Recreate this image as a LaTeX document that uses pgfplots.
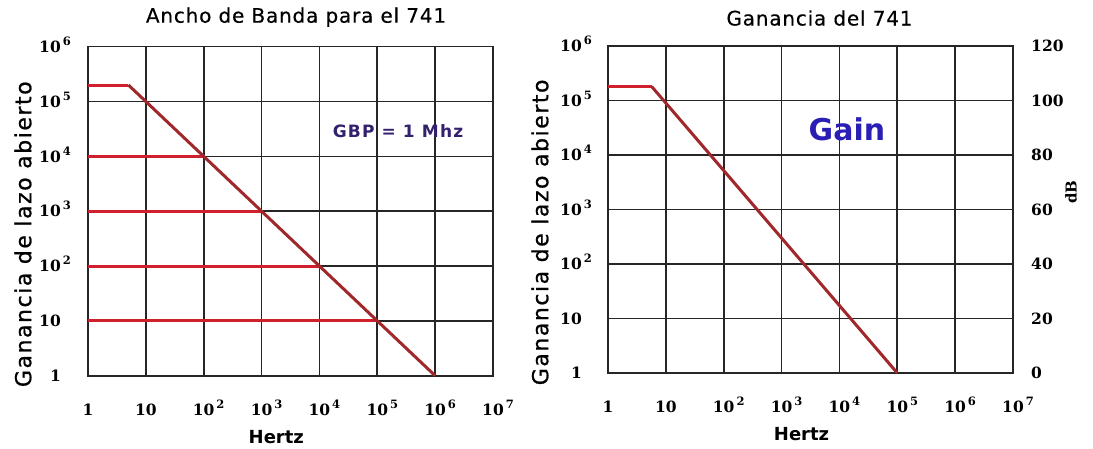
\documentclass[border=0pt]{standalone}
\usepackage{fontspec}
\setmainfont{DejaVu Sans}
\newfontfamily\tickfont{DejaVu Serif}
\newfontfamily\spacedfont{DejaVu Sans}[LetterSpace=4, FakeBold=0.4]
\newfontfamily\spacedfontb{DejaVu Sans}[LetterSpace=7, FakeBold=0.8]
\newfontfamily\spacedfontc{DejaVu Sans}[LetterSpace=7]
\usepackage{pgfplots}
\pgfplotsset{compat=1.18}

\definecolor{gridc}{HTML}{262626}
\definecolor{redh}{HTML}{D0202E}
\definecolor{redd}{HTML}{A0282A}
\definecolor{gbpc}{HTML}{33206E}
\definecolor{gainc}{HTML}{2A1FB5}

\newcommand\tkf{\fontsize{15.5}{15.5}\selectfont\tickfont\bfseries}
\newcommand\pw[1]{10\rlap{\smash{\kern2pt\raisebox{7pt}{\fontsize{11.5}{11.5}\selectfont #1}}}}
\newcommand\titlef{\spacedfont\fontsize{20}{20}\selectfont}
\newcommand\ylabf{\spacedfontb\fontsize{22}{22}\selectfont}
\newcommand\xlabf{\fontsize{18}{18}\selectfont\bfseries}
\newcommand\gbpf{\spacedfontc\fontsize{17}{17}\selectfont\bfseries}
\newcommand\gainf{\fontsize{30}{30}\selectfont\bfseries}
\newcommand\dbf{\fontsize{15}{15}\selectfont\tickfont\bfseries}

\begin{document}
\begin{tikzpicture}
\useasboundingbox (0,0) rectangle (1093pt,448pt);

% Left chart
\begin{axis}[
  xmode=log, ymode=log, scale only axis, width=405pt, height=329pt,
  at={(88pt,72.3pt)}, anchor=south west,
  xmin=1, xmax=1e7, ymin=1, ymax=1e6,
  xtick={1,10,100,1000,10000,100000,1000000,10000000},
  ytick={1,10,100,1000,10000,100000,1000000},
  xticklabels={1,10,\pw2,\pw3,\pw4,\pw5,\pw6,\pw7},
  yticklabels={1,10,\pw2,\pw3,\pw4,\pw5,\pw6},
  grid=major,
  major grid style={gridc, line width=1.6pt},
  axis line style={gridc, line width=1.6pt},
  major tick length=0pt, minor tick length=0pt,
  xticklabel style={anchor=center, inner sep=0pt, yshift=-34pt, font=\tkf},
  yticklabel style={anchor=east, inner sep=0pt, xshift=-27pt, font=\tkf},
  clip=false,
  title={Ancho de Banda para el 741},
  title style={at={(axis description cs:0.5,1)}, anchor=base, font=\titlef, yshift=18pt, xshift=5.5pt},
  xlabel={Hertz},
  x label style={at={(axis description cs:0.465,0)}, anchor=base, font=\xlabf, yshift=-68pt},
  ylabel={Ganancia de lazo abierto},
  every axis y label/.style={at={(axis description cs:0,0.43)}, xshift=-65pt, rotate=90, anchor=center, font=\ylabf},
]
\addplot[redh, line width=3pt] coordinates {(1,10000) (100,10000)};
\addplot[redh, line width=3pt] coordinates {(1,1000) (1000,1000)};
\addplot[redh, line width=3pt] coordinates {(1,100) (10000,100)};
\addplot[redh, line width=3pt] coordinates {(1,10) (100000,10)};
\addplot[redh, line width=3pt] coordinates {(1,200000) (5,200000)};
\addplot[redd, line width=3pt] coordinates {(5,200000) (1000000,1)};
\node[font=\gbpf, text=gbpc, anchor=center, inner sep=0pt]
  at (axis cs:228000,29200) {GBP = 1 Mhz};
\end{axis}

% Right chart
\begin{axis}[
  xmode=log, ymode=log, scale only axis, width=405pt, height=327pt,
  at={(608pt,75pt)}, anchor=south west,
  xmin=1, xmax=1e7, ymin=1, ymax=1e6,
  xtick={1,10,100,1000,10000,100000,1000000,10000000},
  ytick={1,10,100,1000,10000,100000,1000000},
  xticklabels={1,10,\pw2,\pw3,\pw4,\pw5,\pw6,\pw7},
  yticklabels={1,10,\pw2,\pw3,\pw4,\pw5,\pw6},
  grid=major,
  major grid style={gridc, line width=1.6pt},
  axis line style={gridc, line width=1.6pt},
  major tick length=0pt, minor tick length=0pt,
  xticklabel style={anchor=center, inner sep=0pt, yshift=-34pt, font=\tkf},
  yticklabel style={anchor=east, inner sep=0pt, xshift=-26pt, font=\tkf},
  clip=false,
  title={Ganancia del 741},
  title style={at={(axis description cs:0.5,1)}, anchor=base, font=\titlef, yshift=14.5pt, xshift=9pt},
  xlabel={Hertz},
  x label style={at={(axis description cs:0.478,0)}, anchor=base, font=\xlabf, yshift=-67pt},
  ylabel={Ganancia de lazo abierto},
  every axis y label/.style={at={(axis description cs:0,0.43)}, xshift=-68pt, rotate=90, anchor=center, font=\ylabf},
]
\addplot[redh, line width=3pt] coordinates {(1,180000) (5.7,180000)};
\addplot[redd, line width=3pt] coordinates {(5.7,180000) (100000,1)};
\node[font=\gainf, text=gainc, anchor=center, inner sep=0pt]
  at (axis cs:13500,30000) {Gain};
\end{axis}

% dB scale on the right chart
\begin{axis}[
  at={(608pt,75pt)}, anchor=south west, scale only axis, width=405pt, height=327pt,
  xmin=1, xmax=10, ymin=0, ymax=120,
  axis x line=none, axis y line*=right,
  axis line style={gridc, line width=1.6pt},
  ytick={0,20,40,60,80,100,120},
  yticklabels={0,20,40,60,80,100,120},
  major tick length=0pt,
  yticklabel style={anchor=west, inner sep=0pt, xshift=18pt, font=\tkf},
  ylabel={dB},
  every axis y label/.style={at={(axis description cs:1,0.553)}, xshift=58pt, rotate=90, anchor=center, font=\dbf},
]
\end{axis}
\end{tikzpicture}
\end{document}
